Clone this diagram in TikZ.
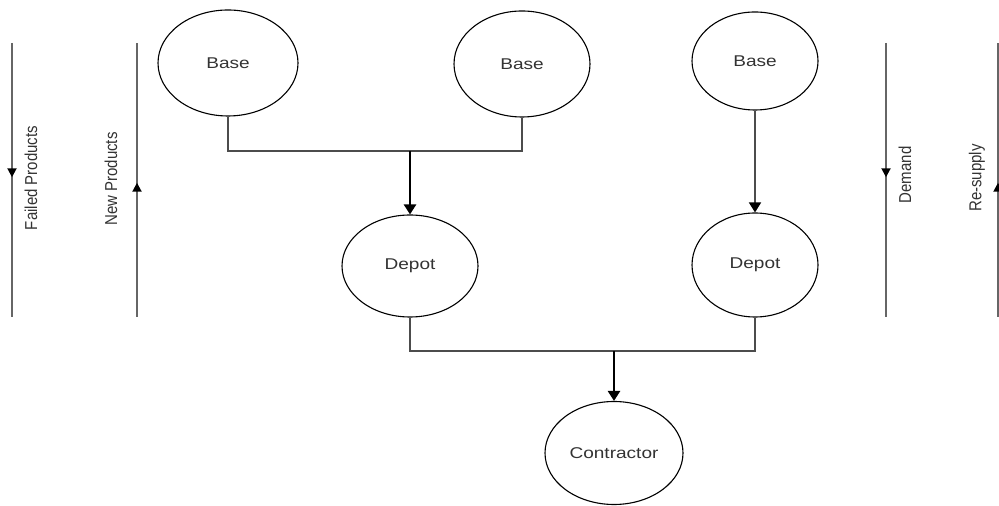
\documentclass[tikz,border=0pt]{standalone}
\usepackage{fontspec}
\setmainfont{Liberation Sans}
\usetikzlibrary{shapes.geometric,arrows.meta,decorations.markings}
\begin{document}
\begin{tikzpicture}[x=0.5pt,y=-0.5pt,
  site/.style={draw=black, line width=0.55pt, ellipse, inner sep=0pt,
    text=black!80, font=\fontsize{7.8}{9}\selectfont},
  link/.style={draw=black!70, line width=0.8pt},
  feed/.style={draw=black, line width=1.2pt, -{Triangle[width=6pt,length=5pt]}},
  drop/.style={link, -{Triangle[width=6pt,length=5pt,black]}},
  flow/.style={draw=black!60, line width=1pt, postaction={decorate},
    decoration={markings, mark=at position 0.49 with {\arrow{Triangle[width=4.5pt,length=4.5pt,black]}}}},
  side/.style={inner sep=0pt, text=black!80, font=\fontsize{7.5}{9}\selectfont}
]
\useasboundingbox (0,0) rectangle (999,506);

% sites of the repair chain
\node[site, minimum width=70pt, minimum height=53pt] (b1) at (228,63) {\scalebox{1.22}[1]{Base}};
\node[site, minimum width=68pt, minimum height=53pt] (b2) at (522,64) {\scalebox{1.22}[1]{Base}};
\node[site, minimum width=63pt, minimum height=49pt] (b3) at (755,61) {\scalebox{1.22}[1]{Base}};
\node[site, minimum width=68pt, minimum height=51pt] (d1) at (410,266) {\scalebox{1.22}[1]{Depot}};
\node[site, minimum width=63pt, minimum height=52pt] (d2) at (755,265) {\scalebox{1.22}[1]{Depot}};
\node[site, minimum width=69pt, minimum height=51.5pt] (c) at (614,453) {\scalebox{1.22}[1]{Contractor}};

% joins of the tree
\coordinate (j1) at (410,151);
\coordinate (j2) at (614,351);

\draw[link] (b1.south) |- (j1);
\draw[link] (b2.south) |- (j1);
\draw[feed] (j1) -- (d1.north);
\draw[drop] (b3.south) -- (d2.north);
\draw[link] (d1.south) |- (j2);
\draw[link] (d2.south) |- (j2);
\draw[feed] (j2) -- (c.north);

% flow directions along the sides
\coordinate (fpT) at (12,43);   \coordinate (fpB) at (12,317);
\coordinate (npT) at (137,43);  \coordinate (npB) at (137,317);
\coordinate (dmT) at (886,43);  \coordinate (dmB) at (886,317);
\coordinate (rsT) at (998,43);  \coordinate (rsB) at (998,317);

\draw[flow] (fpT) -- (fpB);
\draw[flow] (npB) -- (npT);
\draw[flow] (dmT) -- (dmB);
\draw[flow] (rsB) -- (rsT);

\node[side] (fpl) at (31,178) {\scalebox{1.15}[1]{\rotatebox{90}{Failed Products}}};
\node[side] (npl) at (111,179) {\scalebox{1.15}[1]{\rotatebox{90}{New Products}}};
\node[side] (dml) at (905,175) {\scalebox{1.15}[1]{\rotatebox{90}{Demand}}};
\node[side] (rsl) at (977,178) {\scalebox{1.15}[1]{\rotatebox{90}{Re-supply}}};
\end{tikzpicture}
\end{document}
